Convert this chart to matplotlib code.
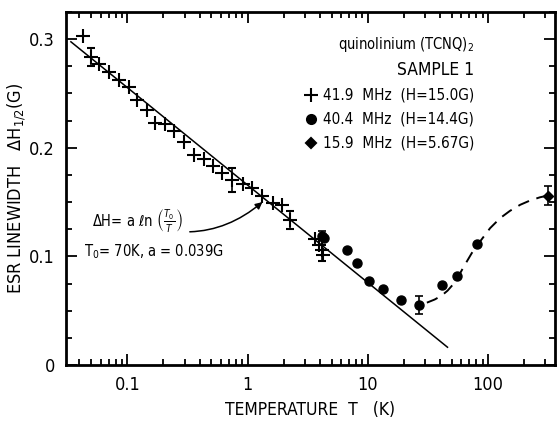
import numpy as np
import matplotlib.pyplot as plt
from matplotlib import ticker

plt.rcParams['font.family'] = ['DejaVu Sans']
plt.rcParams['font.stretch'] = 'condensed'
plt.rcParams['mathtext.fontset'] = 'dejavusans'

# 41.9 MHz data (crosses)
cross_T = [0.0425, 0.0583, 0.0699, 0.0846, 0.1035, 0.120, 0.145, 0.170, 0.206,
           0.245, 0.296, 0.358, 0.434, 0.519, 0.616, 0.921, 1.094, 1.31, 1.63,
           1.94, 3.67, 3.9, 4.25]
cross_dH = [0.303, 0.2774, 0.2694, 0.2627, 0.2559, 0.2442, 0.235, 0.2228, 0.2221,
            0.215, 0.2049, 0.1935, 0.1896, 0.1828, 0.1772, 0.1668, 0.1628, 0.1558,
            0.1496, 0.1475, 0.1158, 0.1106, 0.1014]
cross_err_T = [0.0498, 0.746, 2.27, 4.17]
cross_err_dH = [0.2836, 0.1705, 0.1336, 0.106]
cross_err = [0.008, 0.011, 0.008, 0.010]

# 40.4 MHz data (dots)
dot_T = [4.3, 6.72, 8.13, 10.2, 13.3, 19.0, 41.8, 55.6, 81.5]
dot_dH = [0.117, 0.106, 0.0937, 0.0777, 0.0697, 0.0599, 0.0737, 0.082, 0.1112]
dot_err_T = [4.2, 26.9]
dot_err_dH = [0.119, 0.0553]
dot_err = [0.004, 0.008]

# 15.9 MHz data (diamond)
dia_T = [313]
dia_dH = [0.156]
dia_err = [0.0085]

# guide curve through the high temperature points
guide_T = [31.0, 36.0, 41.0, 46.0, 51.0, 56.0, 62.4, 73.2, 85.8, 104, 126, 152,
           185, 223, 270, 313]
guide_dH = [0.0574, 0.0603, 0.0638, 0.0684, 0.0740, 0.0805, 0.0900, 0.1030,
            0.1137, 0.126, 0.1352, 0.1419, 0.1475, 0.1514, 0.1544, 0.156]

# fit: dH = a ln(T0/T)
T0 = 70.0
a = 0.039
fit_T = np.array([0.034, 46.0])
fit_dH = a * np.log(T0 / fit_T)

fig = plt.figure(figsize=(5.6, 4.21), dpi=100)
ax = fig.add_axes([0.118, 0.133, 0.873, 0.8385])

ax.plot(fit_T, fit_dH, color='black', lw=1.1)
ax.plot(guide_T, guide_dH, color='black', lw=1.4, ls=(0, (6, 4)))

ax.plot(cross_T, cross_dH, ls='none', marker='+', ms=10, mew=1.5, color='black')
ax.errorbar(cross_err_T, cross_err_dH, yerr=cross_err, fmt='+', ms=10, mew=1.5,
            color='black', ecolor='black', elinewidth=1.2, capsize=3, capthick=1.2)
ax.plot(dot_T, dot_dH, ls='none', marker='o', ms=6.5, color='black')
ax.errorbar(dot_err_T, dot_err_dH, yerr=dot_err, fmt='o', ms=6.5, color='black',
            elinewidth=1.2, capsize=3, capthick=1.2)
ax.errorbar(dia_T, dia_dH, yerr=dia_err, fmt='D', ms=5.5, color='black',
            elinewidth=1.2, capsize=3, capthick=1.2)

ax.set_xscale('log')
ax.set_xlim(0.031, 360)
ax.set_ylim(0, 0.325)
ax.xaxis.set_major_locator(ticker.FixedLocator([0.1, 1, 10, 100]))
ax.xaxis.set_major_formatter(ticker.FuncFormatter(lambda v, _: f"{v:g}"))
ax.xaxis.set_minor_locator(ticker.LogLocator(base=10, subs=np.arange(2, 10)))
ax.xaxis.set_minor_formatter(ticker.NullFormatter())
ax.yaxis.set_major_locator(ticker.FixedLocator([0, 0.1, 0.2, 0.3]))
ax.yaxis.set_major_formatter(ticker.FuncFormatter(lambda v, _: f"{v:g}"))
ax.yaxis.set_minor_locator(ticker.MultipleLocator(0.025))
ax.tick_params(which='both', direction='in', top=True, right=True, width=1.3,
               labelsize=13)
ax.tick_params(which='major', length=8, pad=8)
ax.tick_params(which='minor', length=4)
for s in ax.spines.values():
    s.set_linewidth(2)

ax.set_xlabel('TEMPERATURE  T   (K)', fontsize=12.5, labelpad=5)
ax.set_ylabel(r'ESR LINEWIDTH   $\Delta$H$_{1/2}$(G)', fontsize=13, labelpad=1)

# legend block
ax.text(0.835, 0.907, r'quinolinium (TCNQ)$_2$', transform=ax.transAxes,
        ha='right', va='center', fontsize=10.5)
ax.text(0.835, 0.836, 'SAMPLE 1', transform=ax.transAxes,
        ha='right', va='center', fontsize=12.5)
rows = [('+', 10, '41.9  MHz  (H=15.0G)'),
        ('o', 6.5, '40.4  MHz  (H=14.4G)'),
        ('D', 5.5, '15.9  MHz  (H=5.67G)')]
for i, (m, size, label) in enumerate(rows):
    yy = 0.765 - i * 0.068
    ax.plot([0.50], [yy], transform=ax.transAxes, marker=m, ms=size, mew=1.5,
            color='black', ls='none')
    ax.text(0.835, yy, label, transform=ax.transAxes, ha='right', va='center',
            fontsize=11)

# fit annotation
ax.annotate(r'$\Delta$H= a $\ell$n $\left(\frac{T_0}{T}\right)$',
            xy=(1.33, 0.150), xytext=(0.29, 0.132), fontsize=10.5,
            ha='right', va='center',
            arrowprops=dict(arrowstyle='-|>', color='black', lw=1.1,
                            connectionstyle='arc3,rad=0.3', mutation_scale=10,
                            shrinkA=3, shrinkB=0))
ax.text(0.63, 0.104, r'T$_0$= 70K, a = 0.039G', fontsize=10.5, ha='right',
        va='center')

fig.savefig('out.png', dpi=100)
